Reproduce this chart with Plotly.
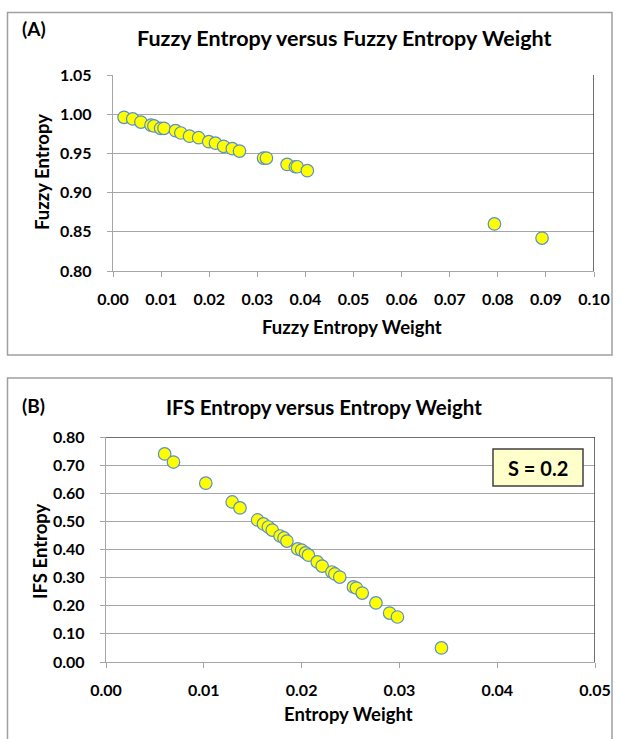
import plotly.graph_objects as go

# Panel A: Fuzzy Entropy vs Fuzzy Entropy Weight
fuzzy_weight = [0.0023, 0.0041, 0.0058, 0.0079, 0.0085, 0.0099, 0.0106, 0.0130,
                0.0141, 0.0159, 0.0178, 0.0199, 0.0213, 0.0230, 0.0248, 0.0263,
                0.0313, 0.0319, 0.0362, 0.0379, 0.0383, 0.0404, 0.0793, 0.0892]
fuzzy_entropy = [0.996, 0.994, 0.990, 0.986, 0.985, 0.982, 0.982, 0.979,
                 0.976, 0.972, 0.970, 0.965, 0.963, 0.959, 0.956, 0.953,
                 0.944, 0.944, 0.936, 0.933, 0.933, 0.928, 0.860, 0.842]

# Panel B: IFS Entropy vs Entropy Weight (S = 0.2)
ifs_weight = [0.0060, 0.0069, 0.0102, 0.0129, 0.0137, 0.0155, 0.0161, 0.0166,
              0.0170, 0.0178, 0.0182, 0.0185, 0.0196, 0.0200, 0.0204, 0.0207,
              0.0216, 0.0221, 0.0231, 0.0234, 0.0239, 0.0253, 0.0256, 0.0262,
              0.0276, 0.0290, 0.0298, 0.0343]
ifs_entropy = [0.740, 0.711, 0.636, 0.569, 0.548, 0.505, 0.491, 0.480,
               0.469, 0.448, 0.441, 0.430, 0.402, 0.398, 0.388, 0.380,
               0.356, 0.341, 0.320, 0.313, 0.302, 0.267, 0.263, 0.245,
               0.210, 0.174, 0.160, 0.050]

x_ticks_a = [0.00, 0.01, 0.02, 0.03, 0.04, 0.05, 0.06, 0.07, 0.08, 0.09, 0.10]
y_ticks_a = [0.80, 0.85, 0.90, 0.95, 1.00, 1.05]
x_ticks_b = [0.00, 0.01, 0.02, 0.03, 0.04, 0.05]
y_ticks_b = [0.00, 0.10, 0.20, 0.30, 0.40, 0.50, 0.60, 0.70, 0.80]

W, H = 622, 739
FONT = "Lato"
BLACK = "#000000"
GRID = "#a6a6a6"
DARK = "#404040"


def px_x(p):
    return p / W


def px_y(p):
    return 1 - p / H


marker = dict(size=12.5, color="#ffff00", line=dict(color="#5b8fc9", width=1.2))

fig = go.Figure()
fig.add_trace(go.Scatter(x=fuzzy_weight, y=fuzzy_entropy, mode="markers",
                         marker=marker, xaxis="x", yaxis="y", showlegend=False))
fig.add_trace(go.Scatter(x=ifs_weight, y=ifs_entropy, mode="markers",
                         marker=marker, xaxis="x2", yaxis="y2", showlegend=False))

tickfont = dict(family=FONT, size=16, color=BLACK, weight="bold")
axis_common = dict(showline=True, linecolor=GRID, linewidth=1.3, ticks="outside",
                   ticklen=5, tickcolor=GRID, tickwidth=1.3, tickfont=tickfont,
                   zeroline=False, fixedrange=True, automargin=False)

fig.update_layout(
    width=W, height=H,
    margin=dict(l=0, r=0, t=0, b=0, autoexpand=False),
    paper_bgcolor="white", plot_bgcolor="white",
    xaxis=dict(domain=[px_x(113), px_x(594)], range=[0, 0.10], tickvals=x_ticks_a,
               tickformat=".2f", showgrid=False, anchor="y", ticklabelstandoff=9,
               **axis_common),
    yaxis=dict(domain=[px_y(271), px_y(75)], range=[0.80, 1.05], tickvals=y_ticks_a,
               tickformat=".2f", showgrid=True, gridcolor=GRID, gridwidth=1.3,
               anchor="x", ticklabelstandoff=12, **axis_common),
    xaxis2=dict(domain=[px_x(106), px_x(595)], range=[0, 0.05], tickvals=x_ticks_b,
                tickformat=".2f", showgrid=False, anchor="y2", ticklabelstandoff=9,
                **axis_common),
    yaxis2=dict(domain=[px_y(662), px_y(437)], range=[0, 0.80], tickvals=y_ticks_b,
                tickformat=".2f", showgrid=True, gridcolor=GRID, gridwidth=1.3,
                anchor="x2", ticklabelstandoff=12, **axis_common),
)

shapes = [
    # panel borders
    dict(type="rect", xref="paper", yref="paper", x0=px_x(7.5), x1=px_x(612),
         y0=px_y(355), y1=px_y(12.5), line=dict(color="#a0a0a0", width=1.5)),
    dict(type="rect", xref="paper", yref="paper", x0=px_x(7.5), x1=px_x(612),
         y0=px_y(760), y1=px_y(378), line=dict(color="#a0a0a0", width=1.5)),
    # dark plot-area edges
    dict(type="line", xref="x", yref="y", x0=0.10, x1=0.10, y0=0.80, y1=1.05,
         line=dict(color=DARK, width=1.5)),
    dict(type="line", xref="x2", yref="y2", x0=0.05, x1=0.05, y0=0.0, y1=0.80,
         line=dict(color=DARK, width=1.5)),
    dict(type="line", xref="x2", yref="y2", x0=0.0, x1=0.05, y0=0.80, y1=0.80,
         line=dict(color=DARK, width=1.5)),
    # S = 0.2 box
    dict(type="rect", xref="paper", yref="paper", x0=px_x(493), x1=px_x(583),
         y0=px_y(486), y1=px_y(449), fillcolor="#ffffcc",
         line=dict(color=DARK, width=1.5)),
]
fig.update_layout(shapes=shapes)


def text(t, x, y, size, xanchor="center", angle=0):
    return dict(text=t, xref="paper", yref="paper", x=px_x(x), y=px_y(y),
                xanchor=xanchor, yanchor="middle", showarrow=False, textangle=angle,
                font=dict(family=FONT, size=size, color=BLACK, weight="bold"))


annotations = [
    text("(A)", 20, 29, 19, xanchor="left"),
    text("Fuzzy Entropy versus Fuzzy Entropy Weight", 344, 38, 21.5),
    text("Fuzzy Entropy", 42, 172, 18.5, angle=-90),
    text("Fuzzy Entropy Weight", 352, 327, 18.5),
    text("(B)", 20, 405, 19, xanchor="left"),
    text("IFS Entropy versus Entropy Weight", 324, 407, 20.5),
    text("IFS Entropy", 40, 551, 18.5, angle=-90),
    text("Entropy Weight", 349, 714, 18.5),
    text("S = 0.2", 538, 468, 20),
]
fig.update_layout(annotations=annotations)

fig.write_html("out.html", config={"displayModeBar": False},
               post_script="document.body.style.margin='0px';")
